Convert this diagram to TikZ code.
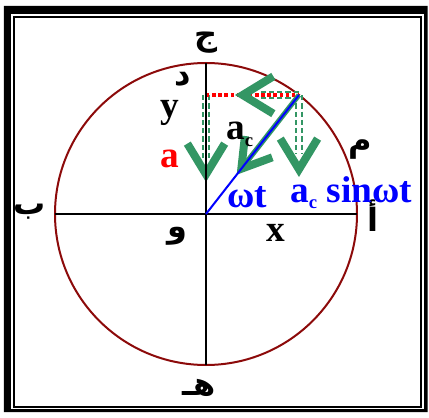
\documentclass[tikz,border=0pt]{standalone}
\usepackage{fontspec}
\setmainfont{Liberation Serif}
\newfontfamily\arabicfont[Script=Arabic]{DejaVu Sans}
\TeXXeTstate=1
\usetikzlibrary{arrows.meta,calc,positioning}
\definecolor{vecgreen}{RGB}{51,150,100}
\definecolor{rimred}{RGB}{140,10,10}
\newcommand{\subc}[1]{\raisebox{-5pt}{\fontsize{14pt}{14pt}\selectfont #1}}

\begin{document}
\begin{tikzpicture}[
  x=0.75pt, y=0.75pt,
  font=\fontsize{28pt}{30pt}\selectfont\bfseries,
  axis/.style ={draw=black,line width=2pt},
  rim/.style  ={draw=rimred,line width=1.5pt},
  twin/.style ={draw=vecgreen,line width=1.8pt,double=white,double distance=2.4pt,
                dash pattern=on 4pt off 2.2pt,shorten >=18pt},
  vhead/.style={draw=vecgreen,line width=0.4pt,
                -{Straight Barb[length=23pt,width=28pt,line width=6pt]}},
  radial/.style={draw=vecgreen,line width=3.8pt,
                -{Straight Barb[length=21pt,width=26pt,line width=6pt]}},
  proj/.style ={draw=red,line width=2.4pt,dash pattern=on 2.6pt off 2pt},
  lbl/.style  ={inner sep=0pt},
  arab/.style ={inner sep=0pt,font=\fontsize{24pt}{26pt}\selectfont\arabicfont\bfseries},
]
\useasboundingbox (-206,-204) rectangle (223,214);

%% =====================================================
%%  Frame
%% =====================================================
\fill[black,even odd rule] (-202,208) rectangle (221.5,-198)
                          (-195,200) rectangle (218,-195);
\draw[line width=1.5pt] (-192,197) rectangle (214.5,-193);

%% =====================================================
%%  Circle and points
%% =====================================================
\coordinate (O) at (0,0);
\coordinate (P) at (52:151);
\coordinate (Py) at (P -| O);
\coordinate (tipL) at (0,32);
\coordinate (tipR) at ($(P |- O)+(0,37)$);
\coordinate (tipH) at ($(Py)+(29,0)$);
\coordinate (tipC) at ($(O)!0.33!(P)$);

\draw[rim] (O) circle (151);

%% =====================================================
%%  Green vectors
%% =====================================================
\draw[twin] (Py) -- (tipL);
\draw[twin] (P) -- (tipR);
\draw[twin] (P) -- (tipH);
\draw[proj] (Py) -- (P);
\draw[vhead] ($(Py)!0.9!(tipL)$) -- (tipL);
\draw[vhead] ($(P)!0.9!(tipR)$) -- (tipR);
\draw[vhead] ($(P)!0.9!(tipH)$) -- (tipH);
\draw[radial] (P) -- (tipC);

%% =====================================================
%%  Axes and radius
%% =====================================================
\draw[axis] (-151,0) -- (151,0);
\draw[axis] (0,-151) -- (0,151);
\draw[draw=blue,line width=1.5pt] (O) -- (P);

%% =====================================================
%%  Labels
%% =====================================================
\node[arab] (jim)  at (0,171)    {\beginR ج\endR};
\node[arab] (ba)   at (-176,2)   {\beginR ب\endR};
\node[arab] (ha)   at (-7,-174)  {\beginR هـ\endR};
\node[arab] (alif) at (167,-2)   {\beginR أ\endR};
\node[arab] (mim)  at (154,64)   {\beginR م\endR};
\node[arab] (dal)  at (-23,135)  {\beginR د\endR};
\node[arab] (waw)  at (-29,-22)  {\beginR و\endR};

\node[lbl,anchor=base] (ylab) at (-36,96) {y};
\node[lbl,red] (alab) at (-36,55) {a};
\node[lbl,anchor=base west] (aclab) at (20,74) {a\subc{c}};
\node[lbl,blue,anchor=base west] (wt) at (21,6) {ωt};
\node[lbl,blue,anchor=base west] (acsin) at (84,12) {a\subc{c} sinωt};
\node[lbl] (xlab) at (70,-19) {x};

\end{tikzpicture}
\end{document}
